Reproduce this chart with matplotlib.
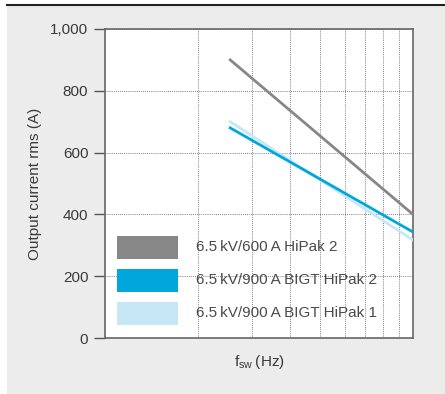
import matplotlib.pyplot as plt
from matplotlib.patches import Rectangle
from matplotlib.lines import Line2D

plt.rcParams['font.family'] = ['Liberation Sans', 'DejaVu Sans']

# switching frequency range (log axis, no labels) and current at the ends
fsw = [2.55, 10.0]
hipak2_600 = [900, 400]
bigt_hipak2 = [680, 343]
bigt_hipak1 = [700, 317]

labels = ["6.5\u2009kV/600\u2009A HiPak 2",
          "6.5\u2009kV/900\u2009A BIGT HiPak 2",
          "6.5\u2009kV/900\u2009A BIGT HiPak 1"]
colors = ["#878787", "#00a7dd", "#c8e7f6"]

yticks = [0, 200, 400, 600, 800, 1000]
ytick_labels = ["0", "200", "400", "600", "800", "1,000"]

fig = plt.figure(figsize=(4.45, 3.94), dpi=100)
fig.patch.set_facecolor("white")
# grey panel and dark rule on top
fig.patches.append(Rectangle((7 / 445, 0), 1, 1 - 6 / 394, transform=fig.transFigure,
                             facecolor="#ececec", edgecolor="none", zorder=-10))
fig.lines.append(Line2D([7 / 445, 1], [1 - 5 / 394, 1 - 5 / 394], transform=fig.transFigure,
                        color="#222222", lw=1.5))

ax = fig.add_axes([105 / 445, 1 - 338 / 394, 308 / 445, 309 / 394])
ax.set_facecolor("white")
ax.set_xscale("log")
ax.set_xlim(1, 10)
ax.set_ylim(0, 1000)

ax.plot(fsw, bigt_hipak1, color=colors[2], lw=2, zorder=3)
ax.plot(fsw, hipak2_600, color=colors[0], lw=2, zorder=4)
ax.plot(fsw, bigt_hipak2, color=colors[1], lw=2, zorder=4)

ax.set_yticks(yticks)
ax.set_yticklabels(ytick_labels)
ax.tick_params(axis="y", direction="out", length=8, width=1, color="#555555",
               labelsize=11, labelcolor="#3a3a3a", pad=4)
ax.tick_params(axis="x", which="both", length=0, labelbottom=False)
ax.xaxis.set_major_formatter(plt.NullFormatter())
ax.xaxis.set_minor_formatter(plt.NullFormatter())

ax.grid(True, axis="y", which="major", linestyle=(0, (1, 1.5)), color="#555555", lw=0.6)
ax.grid(True, axis="x", which="minor", linestyle=(0, (1, 1.5)), color="#555555", lw=0.6)
ax.grid(False, axis="x", which="major")
ax.set_axisbelow(True)

for s in ax.spines.values():
    s.set_color("#666666")
    s.set_linewidth(1.2)

ax.set_ylabel("Output current rms (A)", fontsize=11, color="#3a3a3a", labelpad=6)
ax.set_xlabel("f$_{\\mathregular{sw}}$\u2009(Hz)", fontsize=11, color="#3a3a3a", labelpad=11)

# legend drawn as boxes with text
rows_y = [247, 280, 313]
for lab, col, yp in zip(labels, colors, rows_y):
    fy = 1 - yp / 394
    fig.patches.append(Rectangle((117 / 445, fy - 11.5 / 394), 61 / 445, 23 / 394,
                                 transform=fig.transFigure, facecolor=col,
                                 edgecolor="none", zorder=5))
    fig.text(196 / 445, fy, lab, fontsize=11, color="#4a4a4a", va="center", ha="left", zorder=6)

fig.savefig("out.png", dpi=100)
